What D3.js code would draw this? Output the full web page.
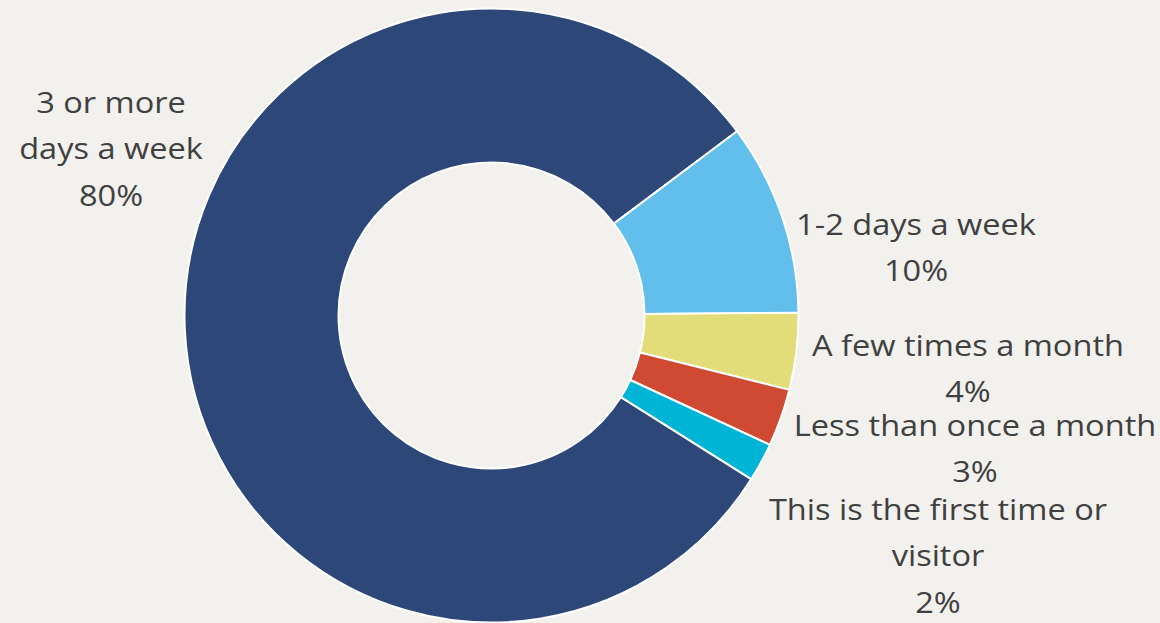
<!DOCTYPE html>
<html>
<head>
<meta charset="utf-8">
<script src="https://cdn.jsdelivr.net/npm/d3@7"></script>
<style>
  html, body { margin: 0; padding: 0; background: #F2F1ED; }
  svg { display: block; }
  text { font-family: "Open Sans", Lato, sans-serif; fill: #404040; }
</style>
</head>
<body>
<svg id="chart" width="1160" height="623"></svg>
<script>
// Visit frequency shares
const categories = [
  "3 or more days a week",
  "1-2 days a week",
  "A few times a month",
  "Less than once a month",
  "This is the first time or visitor"
];
const values = [80, 10, 4, 3, 2];
const labelLines = [
  ["3 or more", "days a week", "80%"],
  ["1-2 days a week", "10%"],
  ["A few times a month", "4%"],
  ["Less than once a month", "3%"],
  ["This is the first time or", "visitor", "2%"]
];
const colors = ["#2C4778", "#62BFEC", "#E2DC79", "#D04A33", "#00B4D6"];

// Layout
const W = 1160, H = 623;
const cx = 491.5, cy = 315.5;
const outerR = 307, innerR = 153;
// first slice begins at ~122 degrees clockwise from 12 o'clock
const start = 122.2 * Math.PI / 180;

// label block centres (x) and first baseline (y)
const labelAnchors = [
  [111, 113], [916, 235], [968, 356], [975, 436], [938, 520]
];
const lineGap = 46.5;
const fontSize = 30;
const stretchX = 1.085;   // labels are set slightly wide

const svg = d3.select("#chart");

const pie = d3.pie().sort(null).value(d => d)
  .startAngle(start).endAngle(start + 2 * Math.PI);
const arc = d3.arc().innerRadius(innerR).outerRadius(outerR);

const g = svg.append("g").attr("transform", `translate(${cx},${cy})`);
g.selectAll("path")
  .data(pie(values))
  .join("path")
  .attr("d", arc)
  .attr("fill", (d, i) => colors[i])
  .attr("stroke", "#FFFFFF")
  .attr("stroke-width", 2)
  .attr("stroke-linejoin", "round");

const labels = svg.append("g");
labelLines.forEach((lines, i) => {
  const [x, y] = labelAnchors[i];
  const t = labels.append("text")
    .attr("text-anchor", "middle")
    .attr("font-size", fontSize)
    .attr("transform", `translate(${x},0) scale(${stretchX},1)`);
  lines.forEach((ln, j) => {
    t.append("tspan").attr("x", 0).attr("y", y + j * lineGap).text(ln);
  });
});
</script>
</body>
</html>
